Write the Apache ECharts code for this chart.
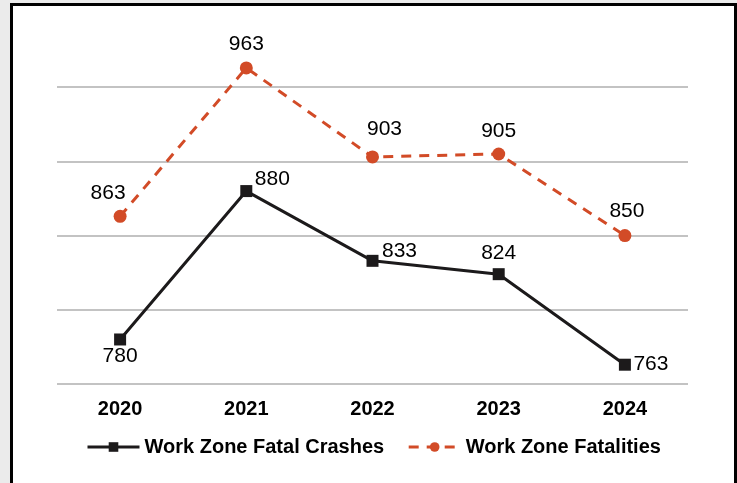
<!DOCTYPE html>
<html>
<head>
<meta charset="utf-8">
<script src="https://cdn.jsdelivr.net/npm/echarts@6/dist/echarts.min.js"></script>
<style>
  html, body { margin: 0; padding: 0; background: #ebebeb; width: 737px; height: 483px; overflow: hidden; }
  #frame { position: absolute; left: 10px; top: 3px; width: 721px; height: 500px; border: 3px solid #000; background: #fff; }
  #chart { position: absolute; left: 0; top: 0; width: 737px; height: 483px; }
</style>
</head>
<body>
<div id="frame"></div>
<div id="chart"></div>
<script>
const years = ['2020', '2021', '2022', '2023', '2024'];
const fatalCrashes = [780, 880, 833, 824, 763];
const fatalities = [863, 963, 903, 905, 850];
const seriesNames = ['Work Zone Fatal Crashes', 'Work Zone Fatalities'];

const FONT = "'Liberation Sans Narrow', 'Arial Narrow', 'Liberation Sans', Arial, sans-serif";
const ORANGE = '#d24b27';
const BLACK = '#1c1a1b';

// label centre offsets from each marker (style only)
const crashLabelOffset = [[0, 17], [26, -12], [27, -10], [0, -21], [26, -1]];
const fatalLabelOffset = [[-12, -23], [0, -24], [12, -28], [0, -23], [2, -24]];

function labelAt(off) {
  return { position: ['50%', '50%'], align: 'center', verticalAlign: 'middle', offset: off };
}

const chart = echarts.init(document.getElementById('chart'), null, { renderer: 'canvas' });
chart.setOption({
  backgroundColor: 'transparent',
  animation: false,
  grid: { left: 57, right: 49, top: 13, bottom: 99 },
  xAxis: {
    type: 'category',
    data: years,
    boundaryGap: true,
    axisLine: { show: false },
    axisTick: { show: false },
    axisLabel: { color: '#000', fontFamily: FONT, fontWeight: 'bold', fontSize: 20, margin: 15 }
  },
  yAxis: {
    type: 'value',
    min: 750,
    max: 1000,
    interval: 50,
    axisLine: { show: false },
    axisTick: { show: false },
    axisLabel: { show: false },
    splitLine: { show: true, lineStyle: { color: ['#c3c3c3', '#c3c3c3', '#c3c3c3', '#c3c3c3', '#c3c3c3', 'rgba(0,0,0,0)'], width: 2 } }
  },
  legend: {
    top: 432,
    left: 81,
    itemWidth: 52,
    itemHeight: 12,
    itemGap: 23,
    lineStyle: { width: 3 },
    textStyle: { color: '#000', fontFamily: FONT, fontWeight: 'bold', fontSize: 20 },
    data: seriesNames
  },
  series: [
    {
      name: seriesNames[0],
      type: 'line',
      data: fatalCrashes.map((v, i) => ({ value: v, label: labelAt(crashLabelOffset[i]) })),
      symbol: 'rect',
      symbolSize: 12,
      lineStyle: { color: BLACK, width: 3 },
      itemStyle: { color: BLACK },
      label: { show: true, color: '#000', fontFamily: FONT, fontSize: 21 }
    },
    {
      name: seriesNames[1],
      type: 'line',
      data: fatalities.map((v, i) => ({ value: v, label: labelAt(fatalLabelOffset[i]) })),
      symbol: 'circle',
      symbolSize: 13,
      lineStyle: { color: ORANGE, width: 3, type: [10, 8] },
      itemStyle: { color: ORANGE },
      label: { show: true, color: '#000', fontFamily: FONT, fontSize: 21 }
    }
  ]
});
</script>
</body>
</html>
